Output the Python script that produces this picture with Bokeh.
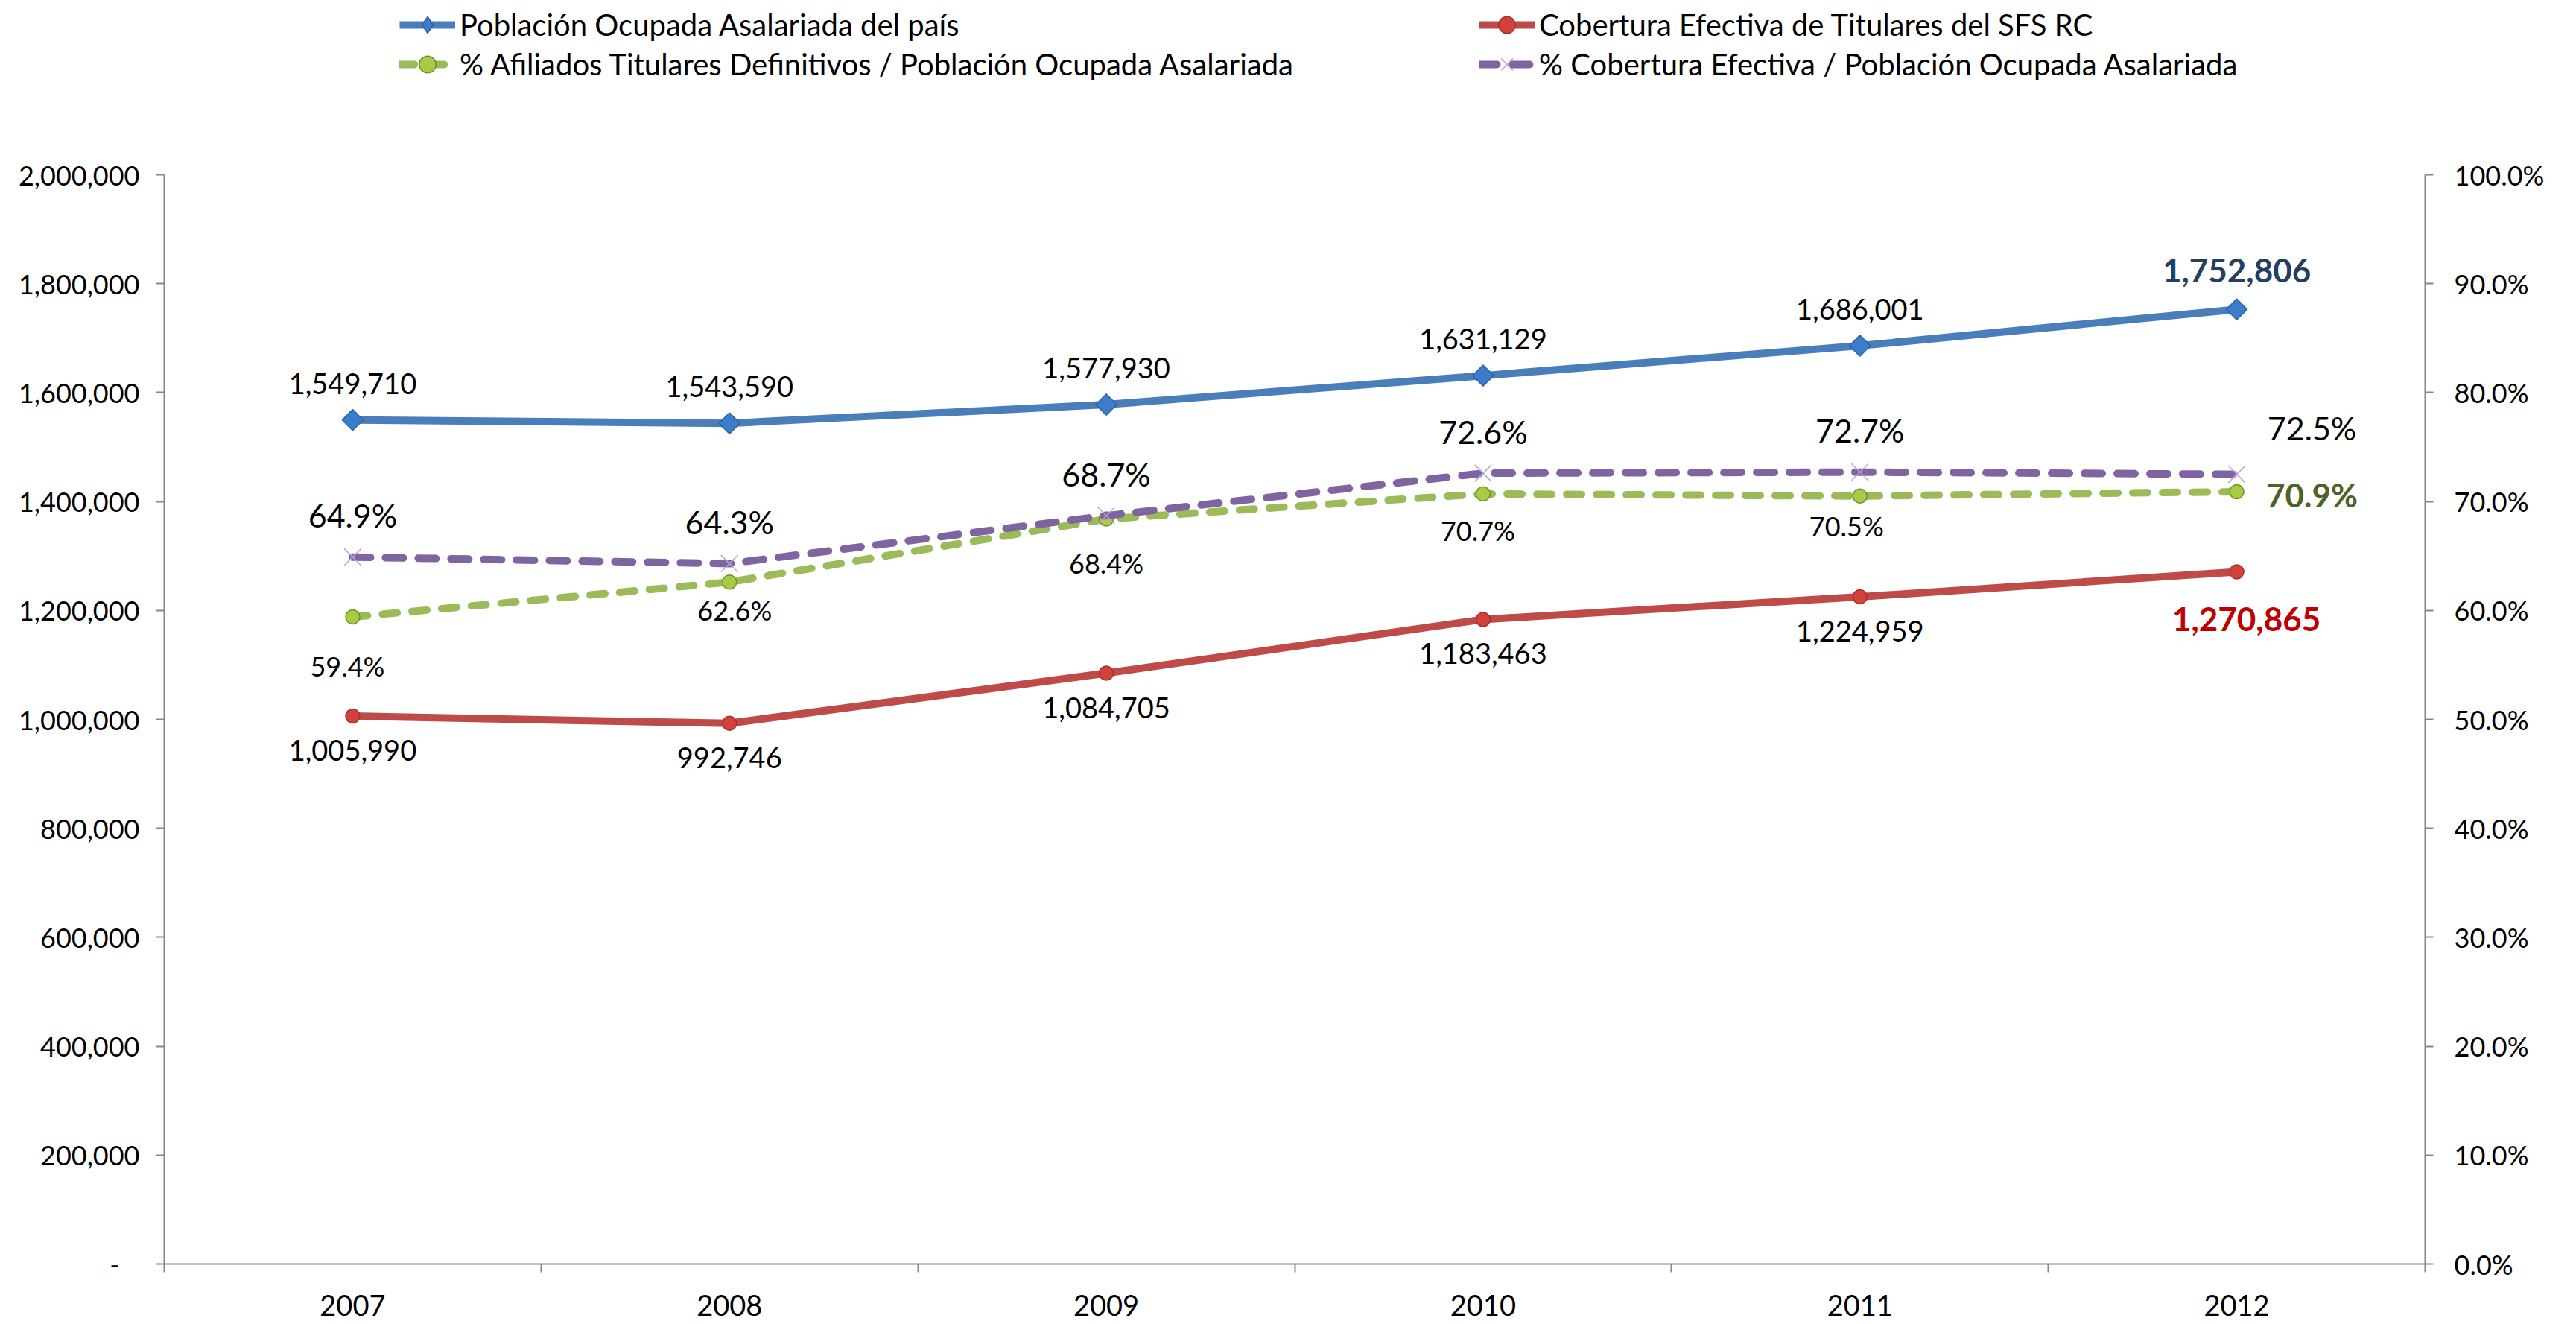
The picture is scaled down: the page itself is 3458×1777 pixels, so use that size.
import math
from bokeh.plotting import figure
from bokeh.layouts import column
from bokeh.models import (Range1d, LinearAxis, FixedTicker, NumeralTickFormatter,
                          PrintfTickFormatter, Legend, LegendItem, ColumnDataSource)
from bokeh.core.properties import value
from bokeh.embed import file_html
from bokeh.resources import INLINE

# ---------------- data ----------------
years = ["2007", "2008", "2009", "2010", "2011", "2012"]
poblacion = [1549710, 1543590, 1577930, 1631129, 1686001, 1752806]
cobertura = [1005990, 992746, 1084705, 1183463, 1224959, 1270865]
pct_afiliados = [59.4, 62.6, 68.4, 70.7, 70.5, 70.9]
pct_cobertura = [64.9, 64.3, 68.7, 72.6, 72.7, 72.5]
left_ticks = [0, 200000, 400000, 600000, 800000, 1000000, 1200000, 1400000, 1600000, 1800000, 2000000]
right_ticks = [0, 10, 20, 30, 40, 50, 60, 70, 80, 90, 100]
legend_labels = ["Población Ocupada Asalariada del país",
                 "Cobertura Efectiva de Titulares del SFS RC",
                 "% Afiliados Titulares Definitivos / Población Ocupada Asalariada",
                 "% Cobertura Efectiva / Población Ocupada Asalariada"]

# ---------------- styles ----------------
FONT = "Lato"
FS = "36px"
AXIS_COLOR = "#868686"
BLUE, RED, GREEN, PURPLE = "#4A7EBB", "#BE4B48", "#9BBB59", "#8064A2"
W, H = 3456, 1775
LEG_H = 120
FRAME_LEFT = 220

STYLES = {
    "blue": (dict(line_color=BLUE, line_width=10, line_join="round"),
             dict(marker="square", angle=math.pi / 4, size=20,
                  fill_color="#3D7CCB", line_color="#2C62A6", line_width=1.5)),
    "red": (dict(line_color=RED, line_width=10, line_join="round"),
            dict(marker="circle", size=19, fill_color="#D2413B",
                 line_color="#A8302C", line_width=1.5)),
    "green": (dict(line_color=GREEN, line_width=10, line_dash="20 20", line_cap="round"),
              dict(marker="circle", size=19, fill_color="#A6CC45",
                   line_color="#6E8F2A", line_width=1.5)),
    "purple": (dict(line_color=PURPLE, line_width=10, line_dash="24 20", line_cap="round"),
               dict(marker="x", size=32, line_color="#B3A6D4", line_width=1.5)),
}


def add_series(fig, key, x, y, legend_glyph=False, **kw):
    ls, ms = STYLES[key]
    ms = dict(ms)
    if legend_glyph and key == "blue":
        ms.pop("angle")
        ms["marker"] = "diamond"
    l = fig.line(x, y, **ls, **kw)
    s = fig.scatter(x, y, **ms, **kw)
    return [l, s]


xs = [i + 0.5 for i in range(len(years))]
boundaries = list(range(len(years) + 1))

# ================= main chart =================
p = figure(width=W, height=H - LEG_H, x_range=Range1d(0, len(years)),
           y_range=Range1d(0, 2000000), output_backend="svg", toolbar_location=None,
           min_border_left=FRAME_LEFT, min_border_right=W - 3255, min_border_top=234 - LEG_H,
           min_border_bottom=H - 1696)
p.outline_line_color = None
p.xgrid.grid_line_color = None
p.ygrid.grid_line_color = None
p.extra_y_ranges = {"pct": Range1d(0, 100)}

# left axis
ya = p.yaxis[0]
ya.ticker = FixedTicker(ticks=left_ticks)
ya.formatter = NumeralTickFormatter(format="0,0")
ya.major_label_overrides = {0: "-\u2003"}
ya.major_tick_out = 11
ya.major_tick_in = 0
ya.minor_tick_line_color = None
ya.axis_line_color = AXIS_COLOR
ya.axis_line_width = 2
ya.major_tick_line_color = AXIS_COLOR
ya.major_tick_line_width = 2
ya.major_label_text_font = FONT
ya.major_label_text_font_size = FS
ya.major_label_text_color = "black"
ya.major_label_standoff = 22

# right axis
ra = LinearAxis(y_range_name="pct", ticker=FixedTicker(ticks=right_ticks),
                formatter=PrintfTickFormatter(format="%.1f%%"))
ra.major_tick_out = 11
ra.major_tick_in = 0
ra.minor_tick_line_color = None
ra.axis_line_color = AXIS_COLOR
ra.axis_line_width = 2
ra.major_tick_line_color = AXIS_COLOR
ra.major_tick_line_width = 2
ra.major_label_text_font = FONT
ra.major_label_text_font_size = FS
ra.major_label_text_color = "black"
ra.major_label_standoff = 28
p.add_layout(ra, "right")

# bottom axis
xa = p.xaxis[0]
xa.ticker = FixedTicker(ticks=xs, minor_ticks=boundaries)
xa.major_label_overrides = {x: y for x, y in zip(xs, years)}
xa.major_tick_line_color = None
xa.major_tick_out = 0
xa.major_tick_in = 0
xa.minor_tick_out = 11
xa.minor_tick_in = 0
xa.minor_tick_line_color = AXIS_COLOR
xa.minor_tick_line_width = 2
xa.axis_line_color = AXIS_COLOR
xa.axis_line_width = 2
xa.major_label_text_font = FONT
xa.major_label_text_font_size = "38px"
xa.major_label_text_color = "black"
xa.major_label_standoff = 30

# series
add_series(p, "blue", xs, poblacion)
add_series(p, "red", xs, cobertura)
add_series(p, "green", xs, pct_afiliados, y_range_name="pct")
add_series(p, "purple", xs, pct_cobertura, y_range_name="pct")

# ---------------- data labels ----------------
n = len(years)


def labels(vals, fmt, dx, dy, yname, color, size, bold=False):
    keep = [i for i in range(len(vals)) if vals[i] is not None]
    src = ColumnDataSource(dict(x=[xs[i] for i in keep],
                                y=[vals[i] for i in keep],
                                t=[fmt(vals[i]) for i in keep],
                                dx=[dx[i] for i in keep],
                                dy=[dy[i] for i in keep]))
    kw = {}
    if yname:
        kw["y_range_name"] = yname
    p.text(x="x", y="y", text="t", x_offset="dx", y_offset="dy", source=src,
           text_font=value(FONT), text_font_size=value(size), text_align="center",
           text_baseline="middle", text_color=color,
           text_font_style="bold" if bold else "normal", **kw)


fmt_int = lambda v: f"{v:,}"
fmt_pct = lambda v: f"{v:.1f}%"


def split(vals):
    normal = list(vals[:-1]) + [None]
    last = [None] * (len(vals) - 1) + [vals[-1]]
    return normal, last


# blue labels above
bn, bb = split(poblacion)
labels(bn, fmt_int, [0] * n, [-49] * n, None, "black", "38px")
labels(bb, fmt_int, [0] * n, [-52] * n, None, "#243F60", "44px", bold=True)

# red labels below
rn, rb = split(cobertura)
labels(rn, fmt_int, [0] * n, [46] * n, None, "black", "38px")
labels(rb, fmt_int, [13] * n, [64] * n, None, "#C00000", "44px", bold=True)

# green labels below
gn, gb = split(pct_afiliados)
labels(gn, fmt_pct, [-7, 7, 0, -7, -18, 0], [66, 38, 60, 49, 40, 0], "pct", "black", FS)
labels(gb, fmt_pct, [101] * n, [4] * n, "pct", "#4F6228", "44px", bold=True)

# purple labels above (larger)
pn, pb = split(pct_cobertura)
labels(pn, fmt_pct, [0] * n, [-56] * n, "pct", "black", "43px")
labels(pb, fmt_pct, [101] * n, [-62] * n, "pct", "black", "43px")

# ================= legend strip =================
# the series are repeated here only as legend sources; the strip's ranges keep them out of view
lg = figure(width=W, height=LEG_H, x_range=Range1d(0, 1), y_range=Range1d(-2, -1),
            output_backend="svg", toolbar_location=None, min_border=0,
            min_border_left=0, min_border_right=0, min_border_top=0, min_border_bottom=0)
lg.axis.visible = False
lg.xgrid.grid_line_color = None
lg.ygrid.grid_line_color = None
lg.outline_line_color = None

GH = 56
series_for_legend = [("blue", poblacion), ("red", cobertura),
                     ("green", pct_afiliados), ("purple", pct_cobertura)]
leg_pos = [(536, 33), (1985, 33), (536, 86), (1985, 86)]
for lab, (key, vals), (px, py) in zip(legend_labels, series_for_legend, leg_pos):
    rends = add_series(lg, key, xs, vals, legend_glyph=True)
    leg = Legend(items=[LegendItem(label=lab, renderers=rends)],
                 location=(px - FRAME_LEFT, LEG_H - (py + GH // 2)),
                 orientation="horizontal", border_line_color=None,
                 background_fill_alpha=0, padding=0, margin=0, spacing=0,
                 glyph_width=75, glyph_height=GH, label_standoff=6,
                 label_height=GH, label_text_font=FONT, label_text_font_size="40px",
                 label_text_color="black", label_text_baseline="middle")
    lg.add_layout(leg, "center")

layout = column(lg, p, spacing=0)
open("out.html", "w").write(file_html(layout, INLINE))
